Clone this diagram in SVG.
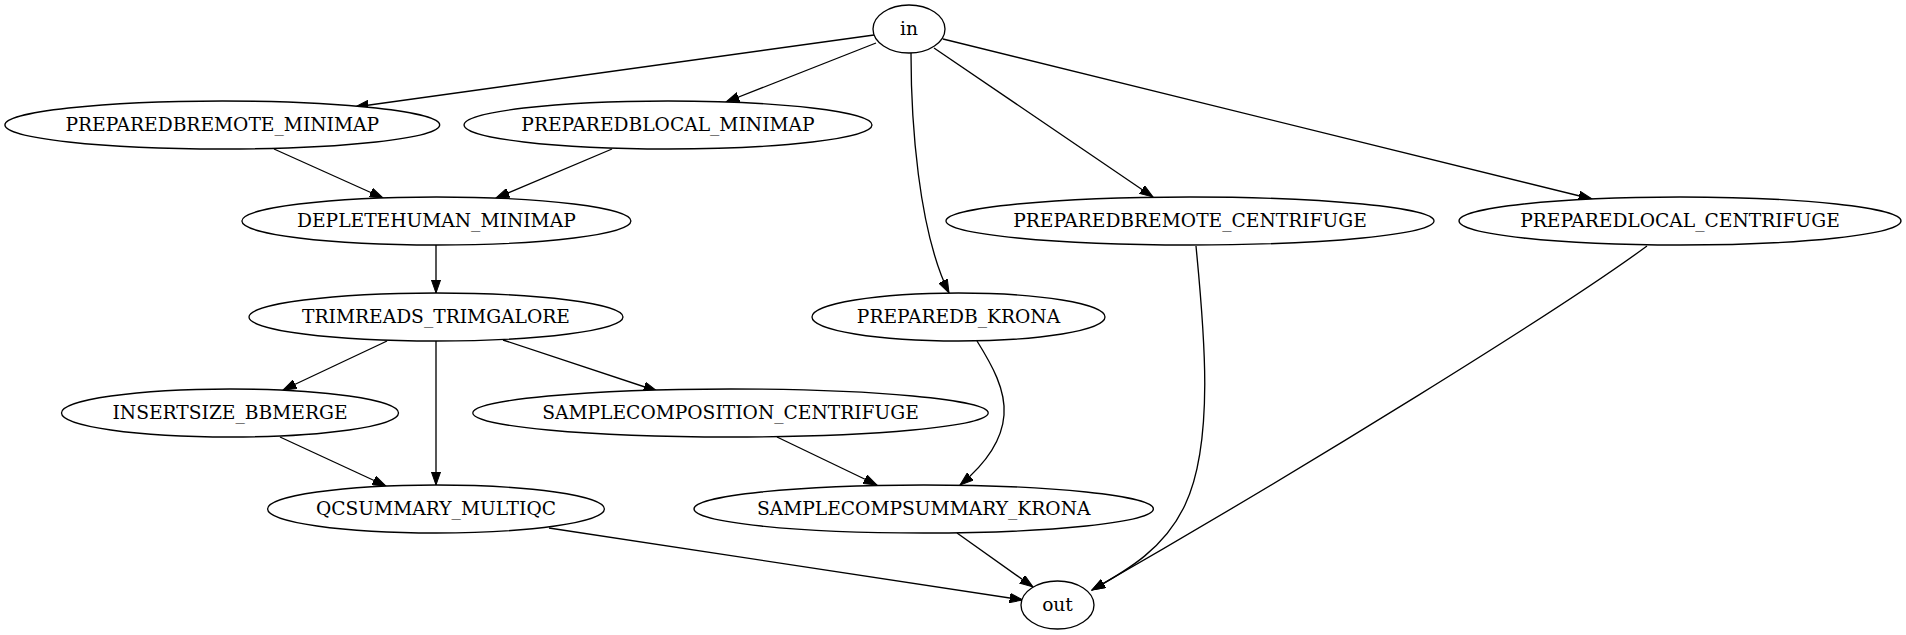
<svg xmlns="http://www.w3.org/2000/svg" width="1906" height="635" viewBox="0 0 1906 635">
<style>
.n ellipse{fill:#fff;stroke:#000;stroke-width:1.33}
.n text{font-family:"DejaVu Serif","Liberation Serif",serif;font-size:18.67px;text-anchor:middle;fill:#000}
.e path{fill:none;stroke:#000;stroke-width:1.33;marker-end:url(#arr)}
</style>
<defs>
<marker id="arr" viewBox="0 0 14 10" refX="13.3" refY="5" markerWidth="14" markerHeight="10" markerUnits="userSpaceOnUse" orient="auto">
<path d="M0,0.33 L13.3,5 L0,9.67 z" fill="#000" stroke="#000" stroke-width="1"/>
</marker>
</defs>
<rect width="1906" height="635" fill="#fff"/>
<g id="edges" class="e">
<path d="M874,35 L355,107"/>
<path d="M876,43 L726,102"/>
<path d="M911,53 C911,120 918,230 949,293"/>
<path d="M934,48 L1153,197"/>
<path d="M943,39 L1592,199"/>
<path d="M274,149 L383,198"/>
<path d="M612,149 L496,198"/>
<path d="M436,245 L436,293"/>
<path d="M387,341 L283,390"/>
<path d="M436,341 L436,485"/>
<path d="M503,340 L657,391"/>
<path d="M280,437 L386,486"/>
<path d="M777,437 L877,485"/>
<path d="M977,341 C992,365 1006,390 1004,415 C1002,442 983,466 960,485"/>
<path d="M549,528 L1023,600"/>
<path d="M957,533 L1033,587"/>
<path d="M1196,246 C1203,320 1216,440 1185,505 C1165,548 1128,570 1092,590"/>
<path d="M1647,246 C1560,310 1310,465 1092,590"/>
</g>
<g id="in" class="n"><ellipse cx="909" cy="29" rx="36" ry="24"/><text x="909" y="34.6">in</text></g>
<g id="PREPAREDBREMOTE_MINIMAP" class="n"><ellipse cx="222.3" cy="125" rx="217.4" ry="24"/><text x="222.3" y="130.6">PREPAREDBREMOTE_MINIMAP</text></g>
<g id="PREPAREDBLOCAL_MINIMAP" class="n"><ellipse cx="668" cy="125" rx="204" ry="24"/><text x="668" y="130.6">PREPAREDBLOCAL_MINIMAP</text></g>
<g id="DEPLETEHUMAN_MINIMAP" class="n"><ellipse cx="436.4" cy="221" rx="194.5" ry="24"/><text x="436.4" y="226.6">DEPLETEHUMAN_MINIMAP</text></g>
<g id="PREPAREDBREMOTE_CENTRIFUGE" class="n"><ellipse cx="1190" cy="221" rx="244" ry="24"/><text x="1190" y="226.6">PREPAREDBREMOTE_CENTRIFUGE</text></g>
<g id="PREPAREDLOCAL_CENTRIFUGE" class="n"><ellipse cx="1680" cy="221" rx="221" ry="24"/><text x="1680" y="226.6">PREPAREDLOCAL_CENTRIFUGE</text></g>
<g id="TRIMREADS_TRIMGALORE" class="n"><ellipse cx="436" cy="317" rx="187" ry="24"/><text x="436" y="322.6">TRIMREADS_TRIMGALORE</text></g>
<g id="PREPAREDB_KRONA" class="n"><ellipse cx="958.5" cy="317" rx="146.5" ry="24"/><text x="958.5" y="322.6">PREPAREDB_KRONA</text></g>
<g id="INSERTSIZE_BBMERGE" class="n"><ellipse cx="230" cy="413" rx="168.5" ry="24"/><text x="230" y="418.6">INSERTSIZE_BBMERGE</text></g>
<g id="SAMPLECOMPOSITION_CENTRIFUGE" class="n"><ellipse cx="730.5" cy="413" rx="257.7" ry="24"/><text x="730.5" y="418.6">SAMPLECOMPOSITION_CENTRIFUGE</text></g>
<g id="QCSUMMARY_MULTIQC" class="n"><ellipse cx="436" cy="509" rx="168.4" ry="24"/><text x="436" y="514.6">QCSUMMARY_MULTIQC</text></g>
<g id="SAMPLECOMPSUMMARY_KRONA" class="n"><ellipse cx="923.7" cy="509" rx="229.7" ry="24"/><text x="923.7" y="514.6">SAMPLECOMPSUMMARY_KRONA</text></g>
<g id="out" class="n"><ellipse cx="1057.5" cy="605" rx="36.5" ry="24"/><text x="1057.5" y="610.6">out</text></g>
</svg>
